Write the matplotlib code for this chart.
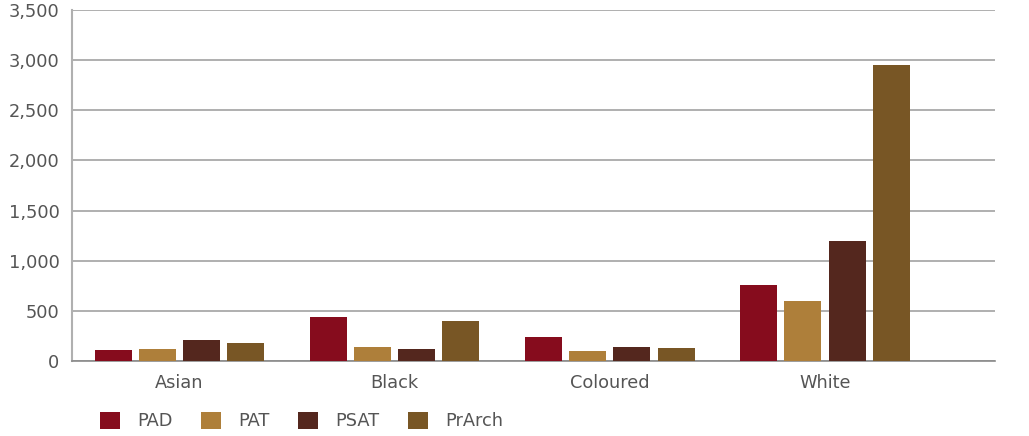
import numpy as np
import matplotlib
matplotlib.use('agg')
import matplotlib.pyplot as plt

# Data
groups = ['Asian', 'Black', 'Coloured', 'White']
series = ['PAD', 'PAT', 'PSAT', 'PrArch']
pad = [105, 440, 235, 760]
pat = [115, 140, 95, 600]
psat = [210, 115, 140, 1200]
prarch = [180, 400, 130, 2950]
colors = ['#860c1d', '#ae7f3a', '#54271e', '#785625']

plt.rcParams['font.family'] = ['DejaVu Sans']

fig = plt.figure(figsize=(10.29, 4.36), dpi=100)
ax = fig.add_axes([72 / 1029, 75 / 436, 923 / 1029, 351 / 436])

x = np.arange(len(groups))
stride = 0.205
width = 0.172
for i, (name, vals) in enumerate(zip(series, [pad, pat, psat, prarch])):
    ax.bar(x + (i - 1.5) * stride, vals, width, color=colors[i], label=name, zorder=3)

ax.set_ylim(0, 3500)
ax.set_xlim(-0.5, 3.79)
ax.set_yticks(np.arange(0, 3501, 500))
ax.set_yticklabels([f'{v:,}' for v in range(0, 3501, 500)])
ax.set_xticks(x)
ax.set_xticklabels(groups)
ax.tick_params(axis='both', length=0, labelsize=12.8, colors='#555555')
ax.tick_params(axis='y', pad=9)
ax.tick_params(axis='x', pad=9)

ax.grid(axis='y', color='#9a9a9a', linewidth=1.1, zorder=0)
for side in ['top', 'right']:
    ax.spines[side].set_visible(False)
ax.spines['left'].set_color('#b0b0b0')
ax.spines['left'].set_linewidth(1.5)
ax.spines['bottom'].set_color('#8a8a8a')
ax.spines['bottom'].set_linewidth(1.2)

fig.legend(loc='center left', bbox_to_anchor=(100 / 1029, 15 / 436), ncol=4,
           frameon=False, fontsize=12.8, handlelength=1.1, handleheight=1.1,
           handletextpad=1.0, columnspacing=1.6, borderpad=0, borderaxespad=0,
           labelcolor='#555555')

plt.savefig('out.png', dpi=100)
plt.close()
